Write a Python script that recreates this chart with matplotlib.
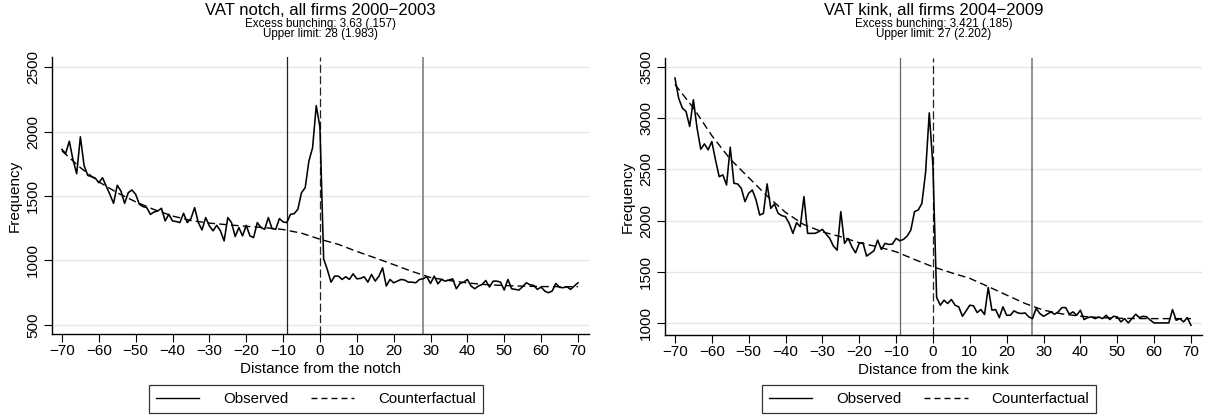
import numpy as np
import matplotlib
matplotlib.use("Agg")
import matplotlib.pyplot as plt
from matplotlib.lines import Line2D

plt.rcParams['font.family'] = ['Liberation Sans', 'DejaVu Sans']

# ---------------- data ----------------
bins = list(range(-70, 71))
cf_bins = list(range(-70, 71, 5))

notch_observed = [
    1861, 1830, 1925, 1780, 1673, 1959, 1737, 1660, 1650, 1640,   # -70..-61
    1603, 1642, 1577, 1513, 1443, 1583, 1539, 1443, 1526, 1547,   # -60..-51
    1513, 1436, 1418, 1410, 1358, 1376, 1384, 1405, 1307, 1358,   # -50..-41
    1307, 1302, 1294, 1366, 1294, 1325, 1410, 1294, 1237, 1333,   # -40..-31
    1268, 1230, 1273, 1230, 1152, 1333, 1294, 1186, 1255, 1191,   # -30..-21
    1273, 1191, 1178, 1294, 1255, 1242, 1333, 1247, 1242, 1325,   # -20..-11
    1299, 1294, 1358, 1363, 1397, 1526, 1565, 1771, 1874, 2201,   # -10..-1
    2033,                                                         # 0
    1013, 930, 832, 879, 879, 853, 874, 853, 897, 858,            # 1..10
    861, 874, 832, 892, 840, 879, 943, 802, 853, 827,             # 11..20
    840, 853, 848, 832, 832, 827, 853, 858, 874, 822,             # 21..30
    879, 819, 853, 840, 848, 858, 781, 822, 832, 853,             # 31..40
    802, 781, 802, 814, 845, 794, 840, 840, 832, 771,             # 41..50
    853, 781, 776, 771, 797, 827, 812, 807, 776, 794,             # 51..60
    763, 750, 763, 822, 792, 789, 797, 776, 802, 827,             # 61..70
]
notch_counterfactual = [
    1850, 1720, 1610, 1525, 1455, 1395, 1345, 1310, 1290, 1277,   # -70..-25
    1265, 1255, 1240, 1212, 1165, 1125, 1070, 1020, 968, 915,     # -20..25
    868, 845, 826, 813, 806, 801, 798, 797, 797,                  # 30..70
]

kink_observed = [
    3392, 3196, 3099, 3066, 2919, 3180, 2903, 2697, 2749, 2691,   # -70..-61
    2772, 2593, 2429, 2446, 2348, 2717, 2364, 2358, 2315, 2185,   # -60..-51
    2266, 2299, 2201, 2054, 2070, 2358, 2119, 2162, 2070, 2048,   # -50..-41
    2038, 1972, 1875, 1979, 1940, 2234, 1875, 1875, 1875, 1891,   # -40..-31
    1914, 1868, 1826, 1750, 1711, 2087, 1777, 1826, 1744, 1685,   # -30..-21
    1777, 1783, 1653, 1679, 1705, 1809, 1718, 1777, 1767, 1770,   # -20..-11
    1826, 1803, 1816, 1848, 1907, 2087, 2103, 2168, 2469, 3052,   # -10..-1
    2529,                                                         # 0
    1248, 1173, 1222, 1190, 1229, 1173, 1157, 1065, 1118, 1173,   # 1..10
    1167, 1101, 1131, 1082, 1346, 1124, 1131, 1052, 1157, 1075,   # 11..20
    1075, 1118, 1098, 1092, 1098, 1059, 1042, 1141, 1092, 1065,   # 21..30
    1085, 1108, 1085, 1108, 1150, 1150, 1085, 1108, 1075, 1124,   # 31..40
    1033, 1052, 1059, 1042, 1059, 1042, 1075, 1033, 1065, 1059,   # 41..50
    1010, 1042, 1000, 1042, 1085, 1052, 1065, 1059, 1026, 1000,   # 51..60
    1000, 1000, 1000, 1000, 1131, 1026, 1042, 1010, 1052, 977,    # 61..70
]
kink_counterfactual = [
    3330, 3100, 2830, 2600, 2420, 2240, 2080, 1960, 1890, 1842,   # -70..-25
    1783, 1744, 1695, 1620, 1548, 1490, 1435, 1355, 1272, 1190,   # -20..25
    1125, 1088, 1066, 1052, 1046, 1043, 1042, 1042, 1042,         # 30..70
]

panels = [
    dict(title="VAT notch, all firms 2000\u22122003",
         sub1="Excess bunching: 3.63 (.157)", sub2="Upper limit: 28 (1.983)",
         obs=notch_observed, cf=notch_counterfactual,
         lower=-9, upper=28, xlabel="Distance from the notch",
         yticks=[500, 1000, 1500, 2000, 2500], ylim=(430, 2578),
         rect=(52, 57, 589, 334), lowcol='#222222'),
    dict(title="VAT kink, all firms 2004\u22122009",
         sub1="Excess bunching: 3.421 (.185)", sub2="Upper limit: 27 (2.202)",
         obs=kink_observed, cf=kink_counterfactual,
         lower=-9, upper=27, xlabel="Distance from the kink",
         yticks=[1000, 1500, 2000, 2500, 3000, 3500], ylim=(882, 3588),
         rect=(665, 58, 1202, 335), lowcol='#666666'),
]

W, H = 1207, 416
fig = plt.figure(figsize=(W / 100, H / 100), dpi=100)

for p in panels:
    x0, y0, x1, y1 = p['rect']
    ax = fig.add_axes([x0 / W, 1 - y1 / H, (x1 - x0) / W, (y1 - y0) / H])
    ax.set_xlim(-72.7, 73)
    ax.set_ylim(*p['ylim'])
    for s in ['top', 'right']:
        ax.spines[s].set_visible(False)
    for s in ['left', 'bottom']:
        ax.spines[s].set_linewidth(1.0)
    ax.set_yticks(p['yticks'])
    ax.set_yticklabels([str(t) for t in p['yticks']], rotation=90, va='center')
    ax.set_xticks(list(range(-70, 71, 10)))
    ax.set_xticklabels([str(t).replace('-', '\u2212') for t in range(-70, 71, 10)])
    ax.tick_params(axis='both', labelsize=11, length=5.5, width=0.8, colors='black')
    ax.tick_params(axis='x', pad=2)
    ax.tick_params(axis='y', pad=3)
    ax.grid(axis='y', color='#e6e6e6', linewidth=1.0)
    ax.set_axisbelow(True)

    ax.axvline(p['lower'], color=p['lowcol'], linewidth=0.9, zorder=2)
    ax.axvline(0, color='#222222', linewidth=0.9, linestyle=(0, (6.5, 2.6)), zorder=2)
    ax.axvline(p['upper'], color='#7f7f7f', linewidth=1.2, zorder=2)

    ax.plot(bins, p['obs'], color='black', linewidth=1.15, zorder=4)
    ax.plot(cf_bins, p['cf'], color='black', linewidth=1.0,
            linestyle=(0, (5.5, 3)), zorder=3)

    ax.set_ylabel("Frequency", fontsize=11, labelpad=3)
    ax.set_xlabel(p['xlabel'], fontsize=11, labelpad=2.5)

    cx = (x0 + x1) / 2 / W
    fig.text(cx, 1 - 15 / H, p['title'], ha='center', va='baseline', fontsize=12)
    fig.text(cx, 1 - 27.5 / H, p['sub1'], ha='center', va='baseline', fontsize=8.4)
    fig.text(cx, 1 - 37.5 / H, p['sub2'], ha='center', va='baseline', fontsize=8.4)

    handles = [Line2D([], [], color='black', linewidth=1.0),
               Line2D([], [], color='black', linewidth=1.0, linestyle=(0, (4.3, 2.9)))]
    leg = fig.legend(handles, ["Observed", "Counterfactual"], ncol=2,
                     loc='center', bbox_to_anchor=(cx - 4.5 / W, 1 - 399 / H),
                     frameon=True, fancybox=False, fontsize=10.8,
                     handlelength=2.9, columnspacing=1.5, handletextpad=1.6,
                     borderpad=0.45, borderaxespad=0)
    leg.get_frame().set_edgecolor('black')
    leg.get_frame().set_linewidth(0.9)

fig.savefig("out.png", dpi=100)
